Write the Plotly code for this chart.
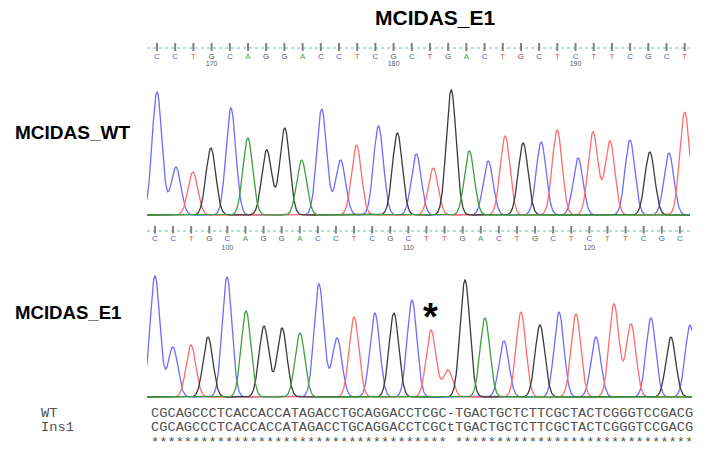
import numpy as np
import plotly.graph_objects as go

W, H = 706, 462

# ---------------- data ----------------
title_text = "MCIDAS_E1"
row_labels = ["MCIDAS_WT", "MCIDAS_E1"]

wt_bases = list("CCTGCAGGACCTCGCTGACTGCTCTTCGCT")
e1_bases = list("CCTGCAGGACCTCGCTTGACTGCTCTTCGC")
wt_number_idx = [3, 13, 23]
wt_number_lbl = ["170", "180", "190"]
e1_number_idx = [4, 14, 24]
e1_number_lbl = ["100", "110", "120"]

# peak centres (in base-call units) and peak heights (signal units)
wt_peak_pos = [0.0, 1.04, 1.97, 2.96, 4.06, 4.99, 6.03, 7.02, 7.95, 9.05,
               10.09, 10.96, 12.17, 13.21, 14.25, 15.18, 16.17, 17.16, 18.2, 19.13,
               20.12, 21.11, 21.99, 23.14, 23.96, 24.89, 25.99, 27.08, 28.13, 29.0]
wt_peak_h = [123, 48, 43, 67, 107, 77, 65, 87, 55, 106,
             55, 70, 89, 82, 61, 47, 125, 64, 54, 79,
             72, 73, 85, 57, 83, 74, 75, 63, 62, 103]

e1_peak_pos = [0.0, 0.99, 1.99, 2.93, 3.98, 5.03, 6.02, 7.02, 8.01, 9.06,
               10.06, 11.0, 12.15, 13.2, 14.2, 15.25, 16.19, 17.13, 18.23, 19.28,
               20.22, 21.27, 22.32, 23.26, 24.36, 25.36, 26.3, 27.4, 28.5, 29.56]
e1_peak_h = [121, 50, 52, 60, 120, 86, 71, 69, 64, 113,
             59, 80, 84, 84, 97, 67, 27, 117, 79, 56,
             85, 72, 85, 83, 60, 93, 73, 79, 60, 72]
mutation_peak = 15

align_names = ["WT", "Ins1"]
align_seqs = ["CGCAGCCCTCACCACCATAGACCTGCAGGACCTCGC-TGACTGCTCTTCGCTACTCGGGTCCGACG",
              "CGCAGCCCTCACCACCATAGACCTGCAGGACCTCGCtTGACTGCTCTTCGCTACTCGGGTCCGACG"]
align_cons = "************************************ *****************************"

# ---------------- styling ----------------
trace_col = {"C": "#6c6cff", "T": "#ff6c6c", "G": "#3a3a3a", "A": "#3f9f3f"}
letter_col = {"C": "#5555ee", "T": "#f04848", "G": "#555555", "A": "#45a045"}
draw_order = ["C", "T", "G", "A"]
SIGMA = 0.27


def px_x(p):
    return p / W


def px_y(p):
    return 1 - p / H


fig = go.Figure()

panels = [
    dict(bases=wt_bases, nidx=wt_number_idx, nlbl=wt_number_lbl, pos=wt_peak_pos, h=wt_peak_h,
         xa="x", ya="y", sy="y3", xr=[-0.55, 29.29]),
    dict(bases=e1_bases, nidx=e1_number_idx, nlbl=e1_number_lbl, pos=e1_peak_pos, h=e1_peak_h,
         xa="x2", ya="y2", sy="y4", xr=[-0.44, 29.67]),
]

strip_geo = [dict(tick=(10, 18), dot=15, let=24, num=31, rng=[39, 0]),
             dict(tick=(4, 11.5), dot=9, let=17, num=26, rng=[34, 0])]

for pi, P in enumerate(panels):
    xs = np.linspace(P["xr"][0], P["xr"][1], 1600)
    for b in draw_order:
        sig = np.zeros_like(xs)
        for bb, c, hh in zip(P["bases"], P["pos"], P["h"]):
            if bb == b:
                sig += hh * np.exp(-0.5 * ((xs - c) / SIGMA) ** 2)
        fig.add_trace(go.Scatter(x=xs, y=sig, mode="lines", xaxis=P["xa"], yaxis=P["ya"],
                                 line=dict(color=trace_col[b], width=1.3), hoverinfo="skip",
                                 showlegend=False))
    g = strip_geo[pi]
    idx = list(range(len(P["bases"])))
    tx, ty = [], []
    for i in idx:
        tx += [i, i, None]
        ty += [g["tick"][0], g["tick"][1], None]
    fig.add_trace(go.Scatter(x=P["xr"], y=[g["dot"], g["dot"]], mode="lines", xaxis=P["xa"], yaxis=P["sy"],
                             line=dict(color="#52c7b8", width=1.2, dash="dot"), hoverinfo="skip",
                             showlegend=False))
    fig.add_trace(go.Scatter(x=tx, y=ty, mode="lines", xaxis=P["xa"], yaxis=P["sy"],
                             line=dict(color="#808080", width=2), hoverinfo="skip", showlegend=False))
    fig.add_trace(go.Scatter(x=idx, y=[g["let"]] * len(idx), mode="text", text=P["bases"],
                             textfont=dict(family="Liberation Sans", size=8,
                                           color=[letter_col[b] for b in P["bases"]]),
                             xaxis=P["xa"], yaxis=P["sy"], hoverinfo="skip", showlegend=False))
    fig.add_trace(go.Scatter(x=P["nidx"], y=[g["num"]] * len(P["nidx"]), mode="text", text=P["nlbl"],
                             textfont=dict(family="Liberation Sans", size=7, color="#555555"),
                             xaxis=P["xa"], yaxis=P["sy"], hoverinfo="skip", showlegend=False))

hidden = dict(visible=False, showgrid=False, zeroline=False, fixedrange=True)

fig.update_layout(
    width=W, height=H, margin=dict(l=0, r=0, t=0, b=0),
    paper_bgcolor="white", plot_bgcolor="rgba(0,0,0,0)", showlegend=False,
    xaxis=dict(domain=[px_x(147), px_x(690)], range=panels[0]["xr"], anchor="y", **hidden),
    yaxis=dict(domain=[px_y(217), px_y(75)], range=[-2, 140], anchor="x", **hidden),
    xaxis2=dict(domain=[px_x(147), px_x(692)], range=panels[1]["xr"], anchor="y2", **hidden),
    yaxis2=dict(domain=[px_y(399), px_y(260)], range=[-2, 137], anchor="x2", **hidden),
    yaxis3=dict(domain=[px_y(72), px_y(33)], range=strip_geo[0]["rng"], anchor="x3", **hidden),
    xaxis3=dict(domain=[px_x(147), px_x(690)], range=panels[0]["xr"], anchor="y3", side="top",
                showline=True, linecolor="#e4e4e4", linewidth=1, showticklabels=False, ticks="",
                showgrid=False, zeroline=False),
    yaxis4=dict(domain=[px_y(256), px_y(222)], range=strip_geo[1]["rng"], anchor="x4", **hidden),
    xaxis4=dict(domain=[px_x(147), px_x(692)], range=panels[1]["xr"], anchor="y4", side="top",
                showline=True, linecolor="#e4e4e4", linewidth=1, showticklabels=False, ticks="",
                showgrid=False, zeroline=False),
)

ann = [
    dict(text="<b>%s</b>" % title_text, x=px_x(435), y=px_y(17), xref="paper", yref="paper",
         xanchor="center", yanchor="middle", showarrow=False,
         font=dict(family="Liberation Sans", size=21, color="black")),
    dict(text="<b>%s</b>" % row_labels[0], x=px_x(13), y=px_y(133), xref="paper", yref="paper",
         xanchor="left", yanchor="middle", showarrow=False,
         font=dict(family="Liberation Sans", size=19, color="black")),
    dict(text="<b>%s</b>" % row_labels[1], x=px_x(13), y=px_y(312), xref="paper", yref="paper",
         xanchor="left", yanchor="middle", showarrow=False,
         font=dict(family="Liberation Sans", size=18.6, color="black")),
    dict(text="<b>*</b>", x=e1_peak_pos[mutation_peak], y=e1_peak_h[mutation_peak] + 13,
         xref="x2", yref="y2", xanchor="center", yanchor="middle", showarrow=False,
         font=dict(family="Liberation Sans", size=38, color="black")),
]
mono = dict(family="Liberation Mono", size=13.7, color="#505050")
rows_y = [413, 427]
for name, seq, yy in zip(align_names, align_seqs, rows_y):
    ann.append(dict(text=name, x=px_x(39), y=px_y(yy), xref="paper", yref="paper",
                    xanchor="left", yanchor="middle", showarrow=False, font=mono))
    ann.append(dict(text=seq, x=px_x(149), y=px_y(yy), xref="paper", yref="paper",
                    xanchor="left", yanchor="middle", showarrow=False, font=mono))
ann.append(dict(text=align_cons, x=px_x(149), y=px_y(442), xref="paper", yref="paper",
                xanchor="left", yanchor="middle", showarrow=False, font=mono))
fig.update_layout(annotations=ann)

fig.write_html("out.html", config={"displayModeBar": False},
               post_script="document.body.style.margin='0';")
